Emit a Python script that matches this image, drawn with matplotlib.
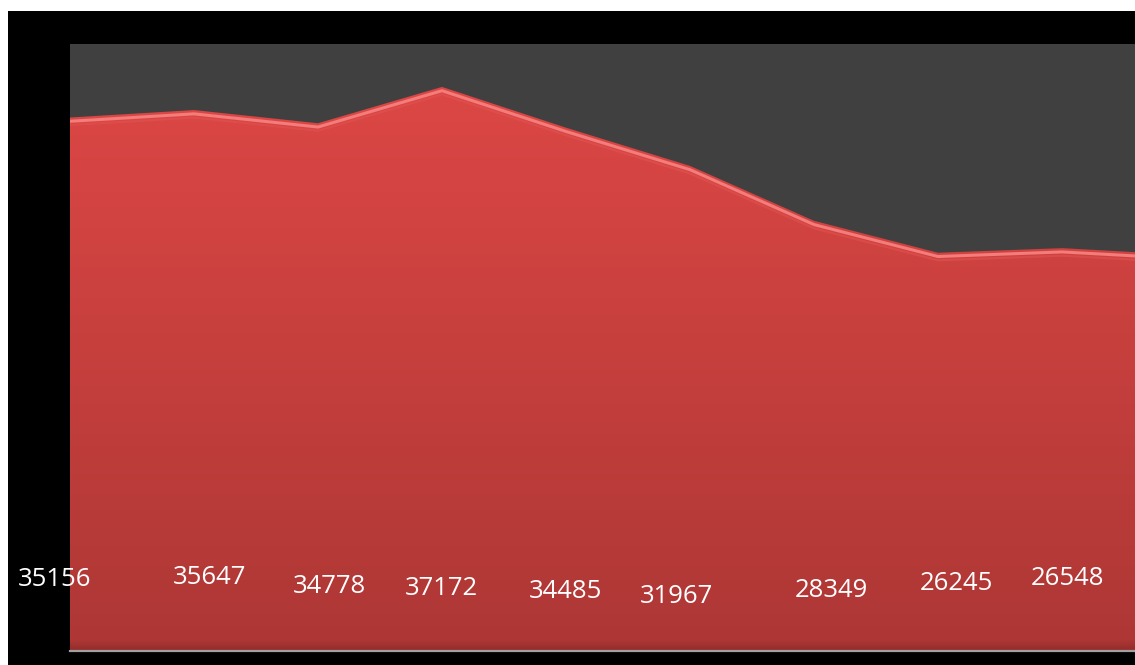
import numpy as np
import matplotlib
matplotlib.use("Agg")
import matplotlib.pyplot as plt
from matplotlib.patches import Polygon, Rectangle
from matplotlib.colors import LinearSegmentedColormap

# data (last point is cut by the right edge)
values = [35156, 35647, 34778, 37172, 34485, 31967, 28349, 26245, 26548, 26100]
labels = ["35156", "35647", "34778", "37172", "34485", "31967", "28349", "26245", "26548", ""]

# label offsets in pixels from (i, 0)
label_dx = [-15, 16, 11, -1, 0, -14, 17, 18, 6, 0]
label_dy = [65, 67, 58, 56, 53, 48, 54, 61, 66, 62]

W, H = 1135, 665
fig = plt.figure(figsize=(W / 100, H / 100), dpi=100, facecolor="white")
# black backdrop
fig.add_artist(Rectangle((8 / W, 0), 1, 1 - 11 / H, transform=fig.transFigure,
                         facecolor="black", edgecolor="none", zorder=-10))

ax = fig.add_axes([70 / W, (H - 651) / H, (W - 70) / W, (651 - 44) / H])
ax.set_facecolor("#404040")

x = np.arange(len(values))
y = np.array(values)

# area with vertical gradient
verts = [(x[0], 0)] + list(zip(x, y)) + [(x[-1], 0)]
poly = Polygon(verts, facecolor="none", edgecolor="none")
ax.add_patch(poly)
cmap = LinearSegmentedColormap.from_list("redgrad", ["#ad3735", "#dc4745"])
grad = np.linspace(0, 1, 256).reshape(-1, 1)
im = ax.imshow(grad, cmap=cmap, origin="lower", aspect="auto",
               extent=[x[0], x[-1], 0, y.max()], zorder=2)
im.set_clip_path(poly)

# darker band at the bottom
shade = LinearSegmentedColormap.from_list("shade", [(0.5, 0.14, 0.14, 0.6), (0.5, 0.14, 0.14, 0.0)])
sim = ax.imshow(grad, cmap=shade, origin="lower", aspect="auto",
                extent=[x[0], x[-1], 0, 700], zorder=3)
sim.set_clip_path(poly)

# bevel highlight along the top edge
ax.plot(x, y - 250, color="#f47c7a", lw=2.2, zorder=4, solid_joinstyle="round")
ax.plot(x, y - 500, color="#e05250", lw=1.5, alpha=0.6, zorder=4)

ax.set_xlim(0, (W - 70) / 124)
ax.set_ylim(0, 40000)

# axis line
ax.axhline(0, color="#a0a0a0", lw=1.6, zorder=5, clip_on=False)

for i, lab in enumerate(labels):
    if lab:
        ax.annotate(lab, xy=(x[i], 0), xytext=(label_dx[i], label_dy[i]),
                    textcoords="offset pixels", ha="center", va="baseline",
                    color="white", fontsize=18.5, family="Open Sans",
                    zorder=6, annotation_clip=False)

for s in ax.spines.values():
    s.set_visible(False)
ax.set_xticks([])
ax.set_yticks([])

fig.savefig("out.png", dpi=100, facecolor=fig.get_facecolor())
